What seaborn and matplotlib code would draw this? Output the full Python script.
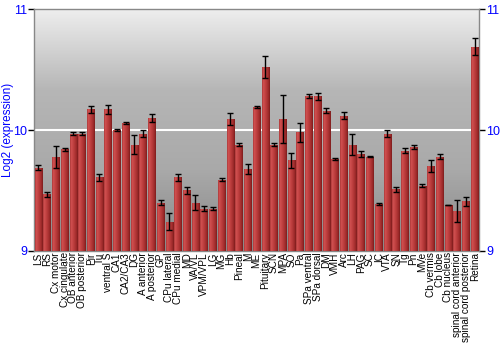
import numpy as np
import matplotlib
matplotlib.use("Agg")
import matplotlib.pyplot as plt
from matplotlib.colors import LinearSegmentedColormap
import seaborn as sns

categories = ["LS", "RS", "Cx motor", "Cx cingulate", "OB anterior", "OB posterior", "Pir", "Tu",
              "ventral S", "CA1", "CA2/CA3", "DG", "A anterior", "A posterior", "GP", "CPu lateral",
              "CPu medial", "MD", "VA/VL", "VPM/VPL", "LG", "MG", "Hb", "Pineal", "M", "ME",
              "Pituitary", "SCN", "MPA", "SO", "Pa", "SPa ventral", "SPa dorsal", "DM", "VMH", "Arc",
              "LH", "PAG", "SC", "IC", "VTA", "SN", "Tg", "Pn", "MVe", "Cb vermis", "Cb lobe",
              "Cb nucleus", "spinal cord anterior", "spinal cord posterior", "Retina"]
values = [9.69, 9.47, 9.78, 9.84, 9.97, 9.97, 10.17, 9.61,
          10.17, 10.00, 10.06, 9.88, 9.97, 10.10, 9.40, 9.24,
          9.61, 9.50, 9.40, 9.35, 9.35, 9.59, 10.09, 9.88, 9.68, 10.19,
          10.52, 9.88, 10.09, 9.75, 9.98, 10.28, 10.28, 10.16, 9.76, 10.12,
          9.88, 9.80, 9.78, 9.39, 9.97, 9.51, 9.83, 9.86, 9.54, 9.70, 9.78,
          9.38, 9.33, 9.41, 10.69]
errors = [0.02, 0.02, 0.09, 0.015, 0.015, 0.015, 0.03, 0.03,
          0.04, 0.005, 0.01, 0.075, 0.03, 0.03, 0.02, 0.07,
          0.03, 0.03, 0.06, 0.02, 0.01, 0.01, 0.05, 0.015, 0.04, 0.005,
          0.09, 0.015, 0.2, 0.06, 0.08, 0.015, 0.03, 0.02, 0.01, 0.025,
          0.09, 0.025, 0.005, 0.01, 0.03, 0.02, 0.02, 0.02, 0.015, 0.05, 0.02,
          0.0, 0.09, 0.04, 0.07]
y_ticks = [9, 10, 11]
y_label = "Log2 (expression)"

sns.set_theme(style="white")
plt.rcParams['font.family'] = ['Liberation Sans', 'DejaVu Sans']

fig = plt.figure(figsize=(5, 3.5), dpi=100)
ax = fig.add_axes([0.068, 0.283, 0.89, 0.691])

sns.barplot(x=categories, y=values, color="#b83838", width=0.85, ax=ax,
            edgecolor="none", zorder=3)
ax.set_xlim(-0.5, len(categories) - 0.5)
ax.set_ylim(9, 11)

# background gradient
bg = np.linspace(0, 1, 256).reshape(-1, 1)
bg_cmap = LinearSegmentedColormap.from_list("bg", ["#888888", "#a9a9a9", "#b6b6b6", "#eeeeee"])
ax.imshow(bg, extent=(-0.5, len(categories) - 0.5, 9, 11), origin="lower",
          aspect="auto", cmap=bg_cmap, zorder=0)
ax.axhline(10, color="white", lw=1.5, zorder=1)

# bar gradients
bar_cmap = LinearSegmentedColormap.from_list(
    "bar", [(0, "#a03030"), (0.12, "#d25252"), (0.5, "#bb3c3c"), (0.85, "#9a2828"), (1, "#7a1c1c")])
grad = np.linspace(0, 1, 64).reshape(1, -1)
for p in list(ax.patches):
    x0, w, h = p.get_x(), p.get_width(), p.get_height()
    im = ax.imshow(grad, extent=(x0, x0 + w, 9, h), aspect="auto", cmap=bar_cmap, zorder=3.5)
    im.set_clip_path(p)

ax.errorbar(x=np.arange(len(categories)), y=values, yerr=errors, fmt="none",
            ecolor="black", elinewidth=1, capsize=2.5, capthick=1, zorder=5)

ax.set_xticks(np.arange(len(categories)))
ax.set_xticklabels(categories, rotation=90, fontsize=7.2, color="black")
ax.set_yticks(y_ticks)
ax.set_yticklabels([str(t) for t in y_ticks], fontsize=9, color="#0000ff")
ax.tick_params(axis="y", which="both", left=True, right=True, labelleft=True, labelright=True,
               length=4, width=1, color="black", pad=1, direction="out")
ax.tick_params(axis="x", length=0, pad=1)
ax.set_ylabel(y_label, color="#0000ff", fontsize=8.5)
ax.yaxis.set_label_coords(-0.045, 0.5)
ax.set_xlabel("")
for s in ax.spines.values():
    s.set_color("#888888")
    s.set_linewidth(1)

fig.savefig("out.png", dpi=100)
